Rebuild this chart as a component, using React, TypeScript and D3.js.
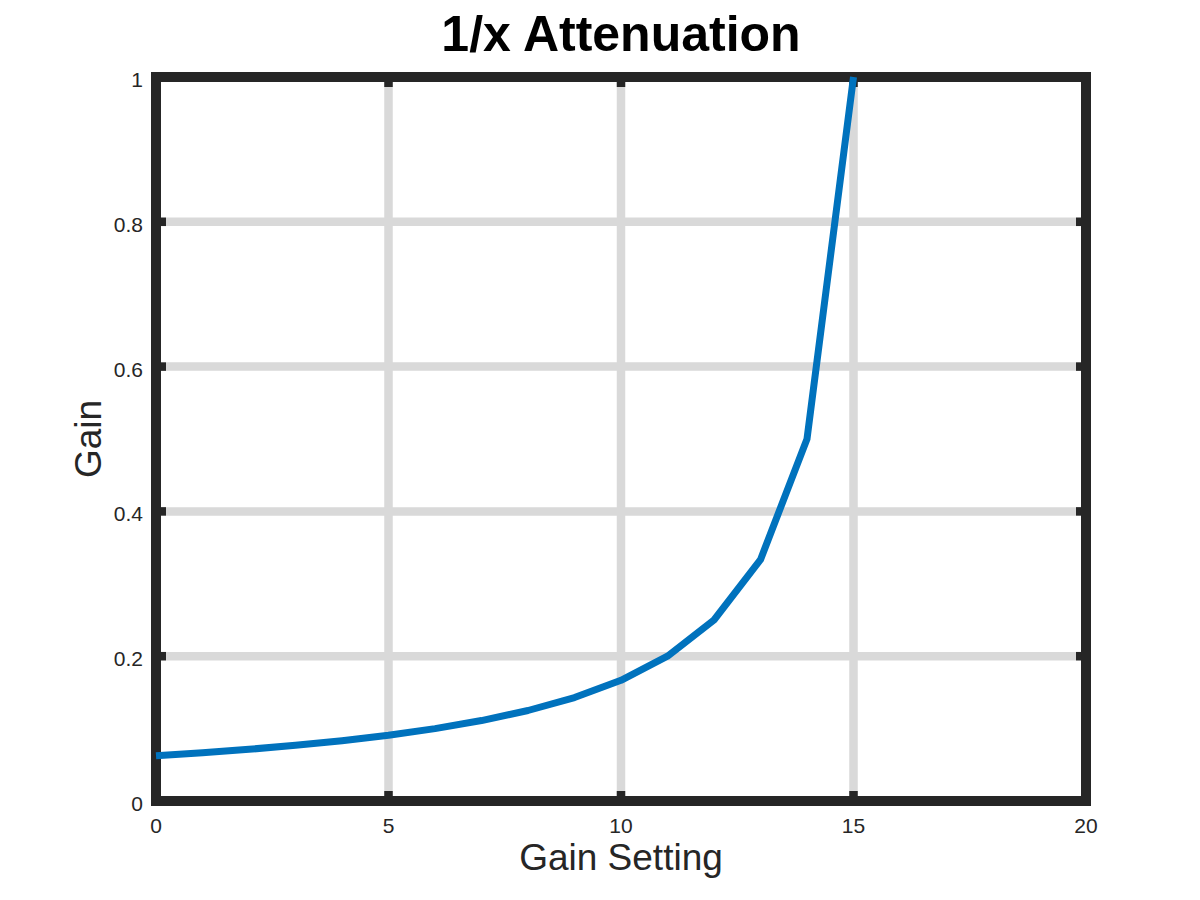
import * as d3 from 'd3';

const gainSetting = [0, 1, 2, 3, 4, 5, 6, 7, 8, 9, 10, 11, 12, 13, 14, 15];
const gain = [
  0.0625, 0.0667, 0.0714, 0.0769, 0.0833, 0.0909, 0.1, 0.1111,
  0.125, 0.1429, 0.1667, 0.2, 0.25, 0.3333, 0.5, 1,
];
const xTicks = [0, 5, 10, 15, 20];
const yTicks = [0, 0.2, 0.4, 0.6, 0.8, 1];

const W = 1200;
const H = 900;
const left = 156;
const right = 1086;
const top = 77;
const bottom = 801;
const frame = '#262626';
const font = '"Liberation Sans", Arial, Helvetica, sans-serif';

export default function App() {
  const x = d3.scaleLinear().domain([0, 20]).range([left, right]);
  const y = d3.scaleLinear().domain([0, 1]).range([bottom, top]);

  const line = d3
    .line<number>()
    .x((_, i) => x(gainSetting[i]))
    .y((d) => y(d));

  return (
    <svg
      width={W}
      height={H}
      style={{ position: 'absolute', left: 0, top: 0, background: '#fff' }}
      fontFamily={font}
    >
      <rect width={W} height={H} fill="#fff" />

      {/* grid */}
      {xTicks.map((t) => (
        <line key={'gx' + t} x1={x(t)} x2={x(t)} y1={top} y2={bottom} stroke="#d9d9d9" strokeWidth={8.5} />
      ))}
      {yTicks.map((t) => (
        <line key={'gy' + t} x1={left} x2={right} y1={y(t)} y2={y(t)} stroke="#d9d9d9" strokeWidth={8.5} />
      ))}

      {/* tick marks along the frame */}
      {xTicks.map((t) => (
        <g key={'tx' + t}>
          <line x1={x(t)} x2={x(t)} y1={bottom} y2={bottom - 10} stroke={frame} strokeWidth={8.5} />
          <line x1={x(t)} x2={x(t)} y1={top} y2={top + 10} stroke={frame} strokeWidth={8.5} />
        </g>
      ))}
      {yTicks.map((t) => (
        <g key={'ty' + t}>
          <line x1={left} x2={left + 10} y1={y(t)} y2={y(t)} stroke={frame} strokeWidth={8.5} />
          <line x1={right} x2={right - 10} y1={y(t)} y2={y(t)} stroke={frame} strokeWidth={8.5} />
        </g>
      ))}

      <rect
        x={left}
        y={top}
        width={right - left}
        height={bottom - top}
        fill="none"
        stroke={frame}
        strokeWidth={10}
      />

      <path d={line(gain) ?? ''} fill="none" stroke="#0072BD" strokeWidth={7} strokeLinejoin="round" />

      {/* tick labels */}
      {xTicks.map((t) => (
        <text key={'lx' + t} x={x(t)} y={833} textAnchor="middle" fontSize={21} fill={frame}>
          {t}
        </text>
      ))}
      {yTicks.map((t) => (
        <text key={'ly' + t} x={143} y={y(t) + 10} textAnchor="end" fontSize={21} fill={frame}>
          {t}
        </text>
      ))}

      <text x={(left + right) / 2} y={870} textAnchor="middle" fontSize={37} fill={frame}>
        Gain Setting
      </text>
      <text
        transform={`translate(101,${(top + bottom) / 2}) rotate(-90)`}
        textAnchor="middle"
        fontSize={37}
        fill={frame}
      >
        Gain
      </text>
      <text x={(left + right) / 2} y={51} textAnchor="middle" fontSize={50} fontWeight="bold" fill="#000">
        1/x Attenuation
      </text>
    </svg>
  );
}
